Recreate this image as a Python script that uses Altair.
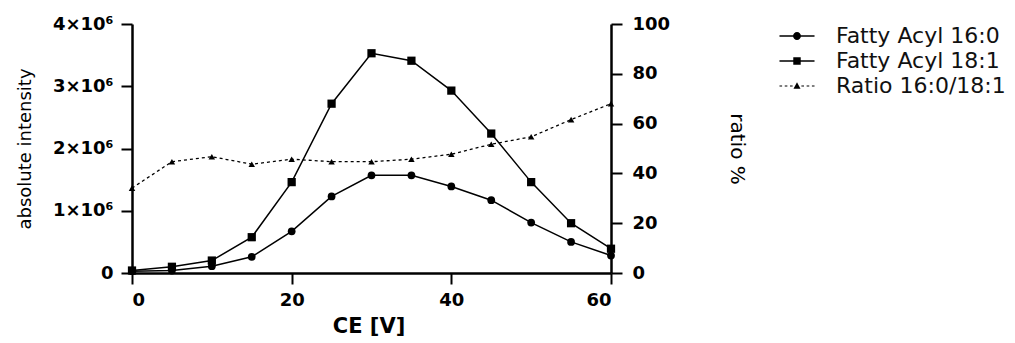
import altair as alt
import pandas as pd

# ---- data ----
ce = [0, 5, 10, 15, 20, 25, 30, 35, 40, 45, 50, 55, 60]
fa_160 = [0.03e6, 0.04e6, 0.11e6, 0.26e6, 0.67e6, 1.23e6, 1.57e6, 1.57e6, 1.39e6, 1.17e6, 0.81e6, 0.50e6, 0.28e6]
fa_181 = [0.04e6, 0.10e6, 0.20e6, 0.575e6, 1.46e6, 2.72e6, 3.53e6, 3.41e6, 2.93e6, 2.24e6, 1.46e6, 0.80e6, 0.39e6]
ratio = [34.1, 44.7, 46.7, 43.7, 45.7, 44.7, 44.7, 45.7, 47.7, 51.7, 54.7, 61.6, 68.0]
series_names = ["Fatty Acyl 16:0", "Fatty Acyl 18:1", "Ratio 16:0/18:1"]
left_ticks = [0, 1e6, 2e6, 3e6, 4e6]
right_ticks = [0, 20, 40, 60, 80, 100]
x_ticks = [0, 20, 40, 60]

rows = []
for name, vals in zip(series_names, [fa_160, fa_181, ratio]):
    for c, v in zip(ce, vals):
        rows.append({"ce": c, "series": name, "value": v})
df = pd.DataFrame(rows)

# legend symbols: line + marker drawn as filled custom paths
bar = "M-1.6,-0.07H1.6V0.07H-1.6Z"
circle_path = bar + "M0.36,0A0.36,0.36,0,1,1,-0.36,0A0.36,0.36,0,1,1,0.36,0Z"
square_path = bar + "M-0.34,-0.34H0.34V0.34H-0.34Z"
dash_segs = [(-1.6, -1.36), (-1.12, -0.88), (-0.64, -0.4), (0.4, 0.64), (0.88, 1.12), (1.36, 1.6)]
tri_path = "".join(f"M{a},-0.055H{b}V0.055H{a}Z" for a, b in dash_segs) + "M0,-0.34L0.32,0.24H-0.32Z"

W, H = 479, 249
FONT = "DejaVu Sans"

x_enc = alt.X(
    "ce:Q",
    scale=alt.Scale(domain=[0, 60], nice=False, zero=False),
    axis=alt.Axis(values=x_ticks, title="CE [V]", titleFontWeight="bold", titleFontSize=21,
                  titleX=W / 2 - 3, titleY=59, titleBaseline="alphabetic", labelPadding=7),
)
y_left = alt.Y(
    "value:Q",
    scale=alt.Scale(domain=[0, 4e6], nice=False),
    axis=alt.Axis(orient="left", values=left_ticks,
                  labelExpr="datum.value == 0 ? '0' : format(datum.value / 1e6, 'd') + '×10⁶'",
                  title="absolute intensity", titleFontWeight="normal", titleFontSize=18,
                  titleAngle=270, titleX=-107, titleY=H / 2, titleBaseline="middle",
                  labelPadding=8),
)
y_right = alt.Y(
    "value:Q",
    scale=alt.Scale(domain=[0, 100], nice=False),
    axis=alt.Axis(orient="right", values=right_ticks, title="ratio %", titleFontWeight="normal",
                  titleFontSize=20, titleAngle=90, titleX=125, titleY=H / 2,
                  titleBaseline="middle", labelPadding=10),
)

base = alt.Chart(df)
is_ratio = alt.datum.series == series_names[2]

lines = base.transform_filter(~is_ratio).mark_line(color="black", strokeWidth=1.5).encode(
    x=x_enc, y=y_left, detail="series:N")
pts_160 = base.transform_filter(alt.datum.series == series_names[0]).mark_point(
    shape="circle", filled=True, size=60, color="black", opacity=1).encode(x=x_enc, y=y_left)
pts_181 = base.transform_filter(alt.datum.series == series_names[1]).mark_point(
    shape="square", filled=True, size=68, color="black", opacity=1).encode(x=x_enc, y=y_left)
legend_layer = base.mark_point(filled=True, opacity=0, color="black").encode(
    x=x_enc, y=y_left,
    shape=alt.Shape("series:N",
                    scale=alt.Scale(domain=series_names, range=[circle_path, square_path, tri_path]),
                    legend=alt.Legend(title=None, orient="none", legendX=654, legendY=1,
                                      symbolSize=480, labelOffset=28, rowPadding=3,
                                      labelFontSize=22, labelFont=FONT, labelColor="#111111",
                                      labelLimit=400,
                                      symbolStrokeWidth=0, symbolOpacity=1,
                                      symbolFillColor="black")),
)

ratio_line = base.transform_filter(is_ratio).mark_line(
    color="black", strokeWidth=1.3, strokeDash=[3, 3]).encode(x=x_enc, y=y_right)
ratio_pts = base.transform_filter(is_ratio).mark_point(
    shape="triangle-up", filled=True, size=42, color="black", opacity=1).encode(x=x_enc, y=y_right)

left = alt.layer(lines, pts_160, pts_181, legend_layer)
right = alt.layer(ratio_line, ratio_pts)

chart = alt.layer(left, right).resolve_scale(y="independent").properties(
    width=W, height=H, autosize="none",
    padding={"left": 132, "top": 24, "right": 1015 - 132 - W, "bottom": 343 - 24 - H},
    background="white",
).configure_view(stroke=None).configure_axis(
    grid=False, domainColor="black", domainWidth=2.5, tickColor="black", tickWidth=2,
    tickSize=11, labelFont=FONT, labelFontWeight="bold", labelFontSize=18, labelColor="black",
    titleFont=FONT, titleColor="black",
)

chart.save("out.html", embed_options={"renderer": "svg", "actions": False})
